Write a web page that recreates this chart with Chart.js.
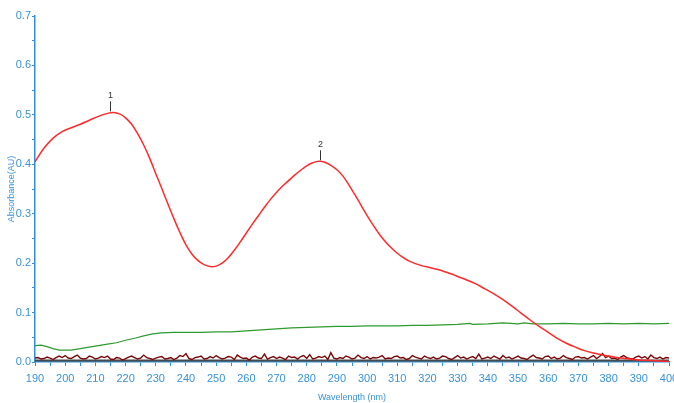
<!DOCTYPE html>
<html>
<head>
<meta charset="utf-8">
<script src="https://cdn.jsdelivr.net/npm/chart.js@4/dist/chart.umd.min.js"></script>
<style>
  html, body { margin: 0; padding: 0; background: #ffffff; }
  #wrap { width: 674px; height: 403px; }
</style>
</head>
<body>
<div id="wrap"><canvas id="chart" width="674" height="403"></canvas></div>
<script>
// Sample spectrum (red): wavelength (nm) and absorbance (AU)
const sampleWl = [190,193,196,199,202,205,208,211,214,216,218,220,222,224,226,228,230,232,234,236,238,240,242,244,246,248,250,252,254,256,258,260,262,264,266,268,270,272,274,276,278,280,282,284,286,288,290,292,294,296,298,300,302,304,306,308,310,312,314,316,318,320,322,324,326,328,330,333,336,339,342,345,348,351,354,357,360,363,366,369,372,375,378,381,384,387,390,394,397,400];
const sampleAbs = [0.405,0.433,0.453,0.466,0.474,0.481,0.489,0.497,0.503,0.505,0.502,0.494,0.481,0.462,0.439,0.412,0.381,0.351,0.320,0.290,0.262,0.237,0.218,0.205,0.197,0.193,0.194,0.200,0.211,0.226,0.243,0.261,0.279,0.296,0.313,0.329,0.343,0.356,0.367,0.378,0.388,0.397,0.403,0.406,0.404,0.398,0.389,0.376,0.358,0.338,0.317,0.296,0.277,0.259,0.244,0.231,0.220,0.211,0.204,0.199,0.195,0.192,0.189,0.186,0.182,0.178,0.173,0.166,0.158,0.148,0.138,0.126,0.113,0.099,0.085,0.072,0.060,0.048,0.038,0.030,0.023,0.018,0.014,0.011,0.008,0.006,0.004,0.003,0.002,0.001];

// Reference spectrum (green)
const refWl = [190,192,194,196,198,200,202,205,208,211,214,217,220,223,226,229,232,236,240,245,250,255,260,265,270,275,280,285,290,295,300,305,310,315,320,325,330,334,335,340,345,350,352,355,360,365,370,375,380,385,390,395,400];
const refAbs = [0.033,0.034,0.031,0.027,0.024,0.024,0.024,0.027,0.030,0.033,0.036,0.039,0.044,0.048,0.053,0.057,0.059,0.060,0.060,0.060,0.061,0.061,0.063,0.065,0.067,0.069,0.070,0.071,0.072,0.072,0.073,0.073,0.073,0.074,0.074,0.075,0.076,0.078,0.076,0.077,0.079,0.077,0.079,0.077,0.077,0.078,0.077,0.077,0.078,0.077,0.078,0.077,0.078];

// Blank run (dark red), one reading per nm from 190 to 400
const blankStart = 190;
const blankAbs = [
0.008,0.009,0.006,0.007,0.010,0.008,0.005,0.009,0.012,0.009,
0.013,0.008,0.007,0.011,0.014,0.008,0.006,0.007,0.012,0.010,
0.006,0.008,0.011,0.009,0.012,0.006,0.005,0.009,0.008,0.004,
0.007,0.010,0.012,0.009,0.006,0.008,0.014,0.009,0.007,0.005,
0.008,0.010,0.011,0.006,0.007,0.009,0.005,0.008,0.013,0.011,
0.017,0.007,0.005,0.009,0.010,0.012,0.006,0.007,0.011,0.008,
0.013,0.009,0.006,0.008,0.011,0.010,0.005,0.014,0.010,0.007,
0.008,0.004,0.010,0.012,0.008,0.007,0.016,0.006,0.009,0.011,
0.007,0.010,0.008,0.005,0.012,0.009,0.010,0.006,0.011,0.013,
0.007,0.015,0.006,0.008,0.011,0.009,0.012,0.005,0.019,0.008,
0.006,0.009,0.007,0.012,0.010,0.006,0.008,0.014,0.009,0.007,
0.011,0.006,0.009,0.008,0.010,0.013,0.006,0.008,0.007,0.011,
0.012,0.008,0.009,0.005,0.007,0.013,0.010,0.008,0.006,0.012,
0.009,0.007,0.010,0.006,0.008,0.012,0.011,0.007,0.005,0.009,
0.013,0.008,0.010,0.006,0.009,0.011,0.007,0.016,0.006,0.008,
0.010,0.007,0.012,0.009,0.006,0.013,0.008,0.010,0.006,0.009,
0.012,0.008,0.007,0.005,0.010,0.014,0.009,0.008,0.006,0.011,
0.012,0.007,0.010,0.006,0.008,0.013,0.009,0.007,0.005,0.010,
0.011,0.008,0.009,0.006,0.010,0.013,0.007,0.011,0.017,0.009,
0.012,0.007,0.008,0.005,0.010,0.013,0.009,0.007,0.006,0.010,
0.012,0.008,0.011,0.006,0.014,0.009,0.007,0.010,0.006,0.009,
0.008];

// Detector baseline (grey)
const baseWl = [190, 400];
const baseAbs = [0.003, 0.003];

// Labelled peaks
const peakWl = [215, 284.5];
const peakAbs = [0.505, 0.406];
const peakLabels = ['1', '2'];

const toPoints = (xs, ys) => xs.map((x, i) => ({ x: x, y: ys[i] }));
const blankPoints = blankAbs.map((v, i) => ({ x: blankStart + i, y: v }));

const AXIS_BLUE = '#2f8fd8';
const narrow = "'Liberation Sans Narrow', 'Liberation Sans', Arial, sans-serif";

// Draws the numbered peak markers above the sample curve
const peakMarkers = {
  id: 'peakMarkers',
  afterDatasetsDraw(chart) {
    const { ctx, scales } = chart;
    ctx.save();
    peakWl.forEach((wl, i) => {
      const px = Math.round(scales.x.getPixelForValue(wl)) + 0.5;
      const py = scales.y.getPixelForValue(peakAbs[i]);
      ctx.strokeStyle = '#333333';
      ctx.lineWidth = 1;
      ctx.beginPath();
      ctx.moveTo(px, py - 1);
      ctx.lineTo(px, py - 11);
      ctx.stroke();
      ctx.fillStyle = '#333333';
      ctx.font = "9px " + narrow;
      ctx.textAlign = 'center';
      ctx.textBaseline = 'bottom';
      ctx.fillText(peakLabels[i], px, py - 12);
    });
    ctx.restore();
  }
};

new Chart(document.getElementById('chart'), {
  type: 'line',
  data: {
    datasets: [
      { label: 'Sample', data: toPoints(sampleWl, sampleAbs), borderColor: '#ff2b2b', borderWidth: 1.5, pointRadius: 0, tension: 0.4, order: 1 },
      { label: 'Reference', data: toPoints(refWl, refAbs), borderColor: '#2f9a2f', borderWidth: 1.2, pointRadius: 0, tension: 0, order: 2 },
      { label: 'Blank', data: blankPoints, borderColor: '#7a0808', borderWidth: 1.4, pointRadius: 0, tension: 0, order: 3 },
      { label: 'Baseline', data: toPoints(baseWl, baseAbs), borderColor: '#4a4a4a', borderWidth: 2, pointRadius: 0, order: 4 }
    ]
  },
  options: {
    responsive: false,
    animation: false,
    devicePixelRatio: 1,
    layout: { padding: { top: 16, right: 5, left: 0, bottom: 0 } },
    plugins: { legend: { display: false }, tooltip: { enabled: false } },
    scales: {
      x: {
        type: 'linear', min: 190, max: 400,
        afterFit(s) { s.height = 41; s.paddingLeft = 0; s.paddingRight = 0; },
        border: { color: AXIS_BLUE, width: 1.5 },
        grid: { drawOnChartArea: false, drawTicks: true, tickLength: 4, color: AXIS_BLUE },
        ticks: {
          stepSize: 5, autoSkip: false, maxRotation: 0, padding: 6,
          color: '#3a92d8', font: { family: narrow, size: 11 },
          callback: (v) => (v % 10 === 0 ? String(v) : '')
        },
        title: { display: true, text: 'Wavelength (nm)', color: '#3a92d8', font: { family: narrow, size: 9 }, padding: { top: 6, bottom: 0 } }
      },
      y: {
        type: 'linear', min: 0, max: 0.7,
        afterFit(s) { s.width = 35; s.paddingTop = 0; s.paddingBottom = 0; },
        border: { color: AXIS_BLUE, width: 1.5 },
        grid: { drawOnChartArea: false, drawTicks: true, tickLength: 3, color: AXIS_BLUE },
        ticks: {
          stepSize: 0.05, autoSkip: false, padding: 1,
          color: '#3a92d8', font: { family: narrow, size: 11 },
          callback: (v) => {
            const r = Math.round(v * 100);
            return r % 10 === 0 ? (r / 100).toFixed(1) : '';
          }
        },
        title: { display: true, text: 'Absorbance(AU)', color: '#3a92d8', font: { family: "'Liberation Sans', Arial, sans-serif", size: 9 }, padding: { top: 6, bottom: 2 } }
      }
    }
  },
  plugins: [peakMarkers]
});
</script>
</body>
</html>
